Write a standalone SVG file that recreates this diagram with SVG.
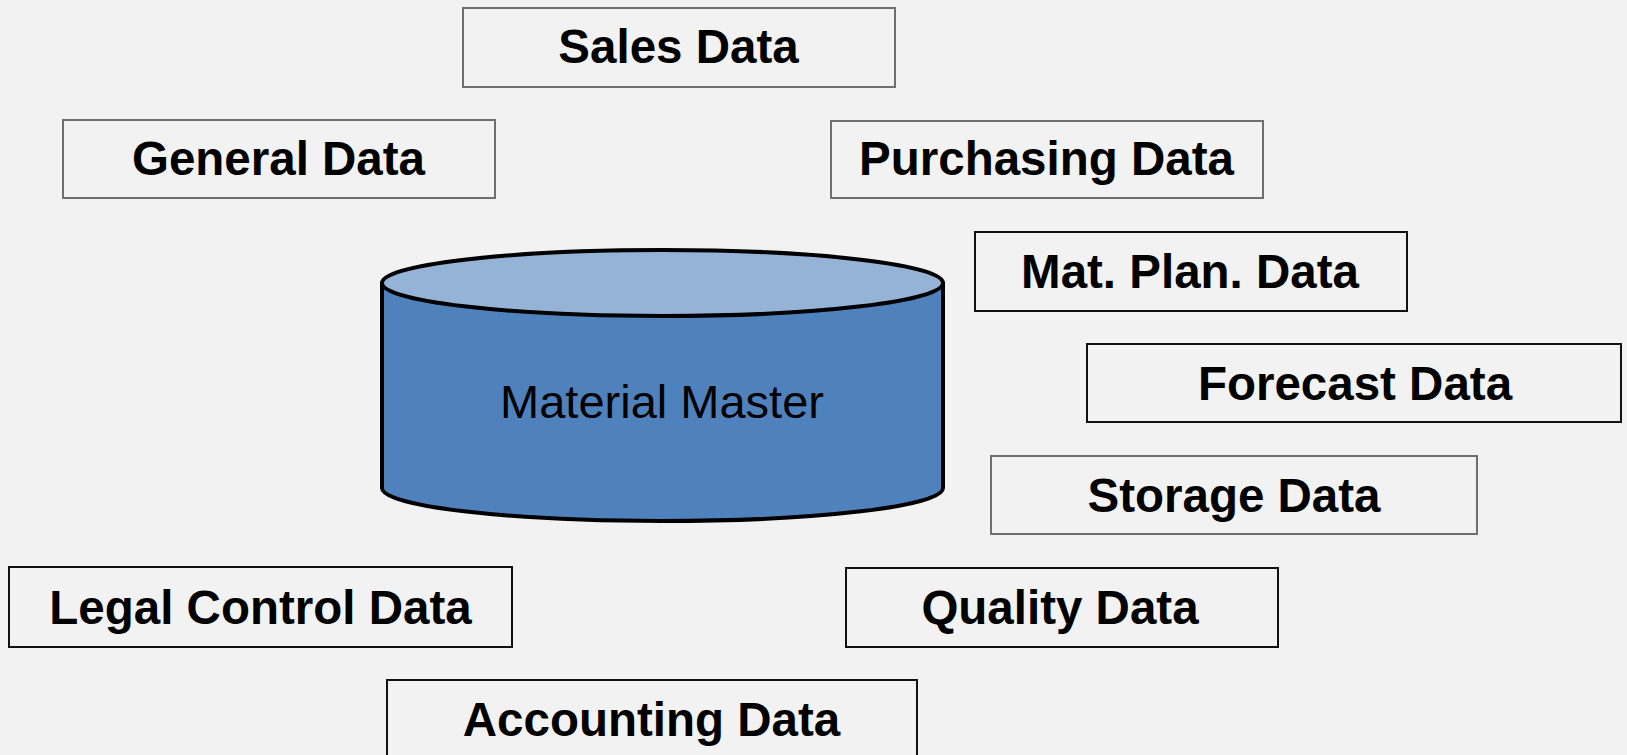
<svg xmlns="http://www.w3.org/2000/svg" width="1627" height="755" viewBox="0 0 1627 755">
<style>
.bx{fill:none;stroke-width:2}
.g{stroke:#6f6f6f}
.k{stroke:#111}
.t{font-family:"Liberation Sans",Arial,sans-serif;font-weight:bold;font-size:47.5px;fill:#000;text-anchor:middle}
.m{font-family:"Liberation Sans",Arial,sans-serif;font-size:47px;fill:#000;text-anchor:middle}
</style>
<rect width="1627" height="755" fill="#f2f2f2"/>
<g id="material-master">
<path d="M382,283 L382,488 A280.5,33 0 0 0 943,488 L943,283 Z" fill="#4f81bd" stroke="#000" stroke-width="4" stroke-linejoin="round"/>
<ellipse cx="662.5" cy="283" rx="280.5" ry="33" fill="#95b3d7" stroke="#000" stroke-width="4"/>
<text class="m" x="662" y="418">Material Master</text>
</g>
<g id="sales"><rect class="bx g" x="463" y="8" width="432" height="79"/><text class="t" x="678.5" y="63">Sales Data</text></g>
<g id="general"><rect class="bx g" x="63" y="120" width="432" height="78"/><text class="t" x="278.5" y="175">General Data</text></g>
<g id="purchasing"><rect class="bx g" x="831" y="121" width="432" height="77"/><text class="t" x="1046.5" y="175">Purchasing Data</text></g>
<g id="matplan"><rect class="bx k" x="975" y="232" width="432" height="79"/><text class="t" x="1190" y="288">Mat. Plan. Data</text></g>
<g id="forecast"><rect class="bx k" x="1087" y="344" width="534" height="78"/><text class="t" x="1355" y="400">Forecast Data</text></g>
<g id="storage"><rect class="bx g" x="991" y="456" width="486" height="78"/><text class="t" x="1234" y="512">Storage Data</text></g>
<g id="legal"><rect class="bx k" x="9" y="567" width="503" height="80"/><text class="t" x="260.5" y="624">Legal Control Data</text></g>
<g id="quality"><rect class="bx k" x="846" y="568" width="432" height="79"/><text class="t" x="1060" y="624">Quality Data</text></g>
<g id="accounting"><rect class="bx k" x="387" y="680" width="530" height="80"/><text class="t" x="651.5" y="736">Accounting Data</text></g>
<g id="connectors"></g>
</svg>
